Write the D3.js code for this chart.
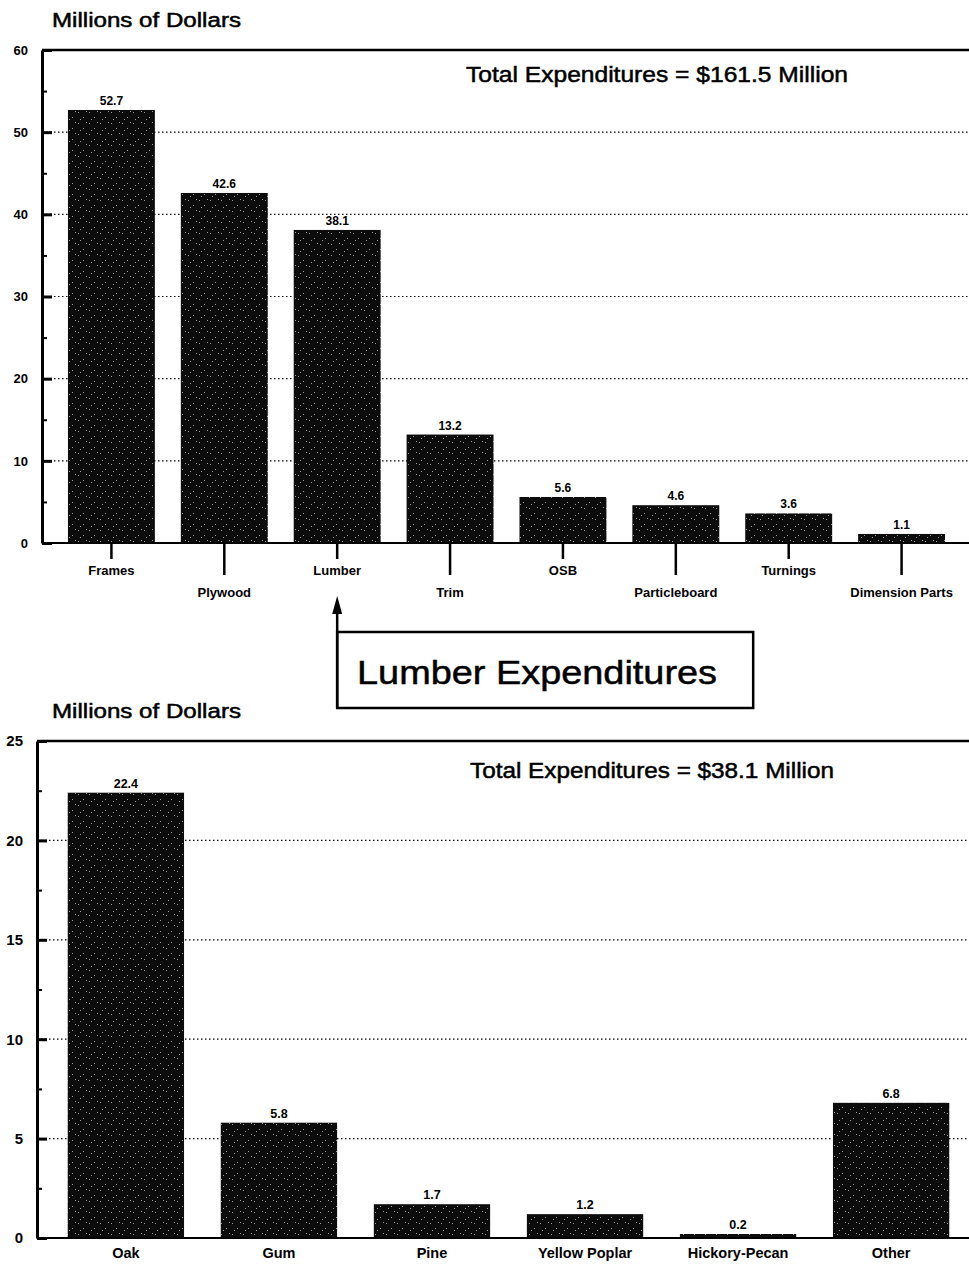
<!DOCTYPE html>
<html>
<head>
<meta charset="utf-8">
<script src="https://cdn.jsdelivr.net/npm/d3@7"></script>
<style>
  body { margin: 0; background: #fff; }
  svg text { font-family: "Liberation Sans", Arial, Helvetica, sans-serif; fill: #000; }
  .heading { stroke: #000; stroke-width: 0.5px; }
</style>
</head>
<body>
<svg id="chart" width="969" height="1266"></svg>
<script>
// wood product expenditures (millions of dollars)
const productCategories = ['Frames', 'Plywood', 'Lumber', 'Trim', 'OSB', 'Particleboard', 'Turnings', 'Dimension Parts'];
const productValues = [52.7, 42.6, 38.1, 13.2, 5.6, 4.6, 3.6, 1.1];
const productTicks = [0, 10, 20, 30, 40, 50, 60];
const productMinorTicks = [5, 15, 25, 35, 45, 55];

// lumber expenditures by species (millions of dollars)
const speciesCategories = ['Oak', 'Gum', 'Pine', 'Yellow Poplar', 'Hickory-Pecan', 'Other'];
const speciesValues = [22.4, 5.8, 1.7, 1.2, 0.2, 6.8];
const speciesTicks = [0, 5, 10, 15, 20, 25];
const speciesMinorTicks = [2.5, 7.5, 12.5, 17.5, 22.5];

const svg = d3.select('#chart');
const width = 969;

// stipple fill, like the printed screen
const defs = svg.append('defs');
const pat = defs.append('pattern')
  .attr('id', 'stipple')
  .attr('width', 11).attr('height', 11)
  .attr('patternUnits', 'userSpaceOnUse');
pat.append('rect').attr('width', 11).attr('height', 11).attr('fill', '#0c0c0c');
[[1, 2], [6, 7], [9, 1], [3, 9]].forEach(p => {
  pat.append('rect').attr('x', p[0]).attr('y', p[1]).attr('width', 1).attr('height', 1).attr('fill', '#9a9a9a');
});

function drawPanel(opt) {
  const g = svg.append('g');

  const y = d3.scaleLinear()
    .domain([0, d3.max(opt.ticks)])
    .range([opt.bottom, opt.top]);

  const x = d3.scaleBand()
    .domain(opt.categories)
    .range(opt.bandRange)
    .padding(opt.padding);

  // title
  g.append('text')
    .attr('class', 'heading')
    .attr('x', 52)
    .attr('y', opt.top - 23)
    .attr('font-size', 20)
    .attr('textLength', 189)
    .attr('lengthAdjust', 'spacingAndGlyphs')
    .text('Millions of Dollars');

  // dotted gridlines
  g.selectAll('line.grid')
    .data(opt.ticks.filter(t => t > 0 && t < d3.max(opt.ticks)))
    .join('line')
      .attr('class', 'grid')
      .attr('x1', opt.axisX).attr('x2', width)
      .attr('y1', d => y(d)).attr('y2', d => y(d))
      .attr('stroke', '#000')
      .attr('stroke-width', 1.2)
      .attr('stroke-dasharray', '1.5,2.5');

  // top frame line
  g.append('line')
    .attr('x1', opt.axisX).attr('x2', width)
    .attr('y1', y(d3.max(opt.ticks))).attr('y2', y(d3.max(opt.ticks)))
    .attr('stroke', '#000').attr('stroke-width', 2.5);

  // total label
  g.append('text')
    .attr('class', 'heading')
    .attr('x', opt.totalX)
    .attr('y', opt.totalY)
    .attr('font-size', 22)
    .attr('textLength', opt.totalWidth)
    .attr('lengthAdjust', 'spacingAndGlyphs')
    .text(opt.totalText);

  // bars
  g.selectAll('rect.bar')
    .data(opt.values)
    .join('rect')
      .attr('class', 'bar')
      .attr('x', (d, i) => x(opt.categories[i]))
      .attr('y', d => y(d))
      .attr('width', x.bandwidth())
      .attr('height', d => y(0) - y(d))
      .attr('fill', 'url(#stipple)');

  g.selectAll('text.value')
    .data(opt.values)
    .join('text')
      .attr('class', 'value')
      .attr('x', (d, i) => x(opt.categories[i]) + x.bandwidth() / 2)
      .attr('y', d => y(d) - 5)
      .attr('text-anchor', 'middle')
      .attr('font-size', opt.valueSize)
      .attr('font-weight', 'bold')
      .text(d => d.toFixed(1));

  // baseline
  g.append('line')
    .attr('x1', opt.axisX).attr('x2', width)
    .attr('y1', y(0)).attr('y2', y(0))
    .attr('stroke', '#000').attr('stroke-width', 2);

  // y axis
  const yAxis = g.append('g')
    .attr('transform', `translate(${opt.axisX},0)`)
    .call(d3.axisLeft(y).tickValues(opt.ticks).tickSizeInner(-10).tickSizeOuter(0).tickPadding(opt.tickPad));
  yAxis.select('.domain').attr('stroke-width', 3);
  yAxis.selectAll('.tick line').attr('stroke-width', 3);
  yAxis.selectAll('.tick text')
    .attr('font-size', opt.tickSize)
    .attr('font-weight', 'bold')
    .attr('font-family', '"Liberation Sans", Arial, sans-serif');

  g.append('g')
    .attr('transform', `translate(${opt.axisX},0)`)
    .call(d3.axisLeft(y).tickValues(opt.minorTicks).tickSize(-5).tickFormat(''))
    .call(s => s.select('.domain').remove())
    .selectAll('.tick line').attr('stroke-width', 2);

  // x axis
  const xAxis = g.append('g')
    .attr('transform', `translate(0,${y(0)})`)
    .call(d3.axisBottom(x).tickSizeOuter(0));
  xAxis.select('.domain').remove();
  xAxis.selectAll('.tick line')
    .attr('stroke-width', opt.staggered ? 2.5 : 0)
    .attr('y1', 1)
    .attr('y2', (d, i) => i % 2 ? 32 : 16);
  xAxis.selectAll('.tick text')
    .attr('font-size', opt.labelSize)
    .attr('font-weight', 'bold')
    .attr('font-family', '"Liberation Sans", Arial, sans-serif')
    .attr('y', (d, i) => opt.staggered && i % 2 ? 45 : opt.labelY)
    .attr('dy', '0.71em');

  return x;
}

const xTop = drawPanel({
  categories: productCategories,
  values: productValues,
  ticks: productTicks,
  minorTicks: productMinorTicks,
  top: 50, bottom: 543,
  axisX: 42,
  bandRange: [42, 971], padding: 0.23,
  totalText: 'Total Expenditures = $161.5 Million',
  totalX: 466, totalY: 82, totalWidth: 382,
  staggered: true, labelY: 23,
  labelSize: 13, valueSize: 12, tickSize: 13, tickPad: 14
});

drawPanel({
  categories: speciesCategories,
  values: speciesValues,
  ticks: speciesTicks,
  minorTicks: speciesMinorTicks,
  top: 741, bottom: 1238,
  axisX: 37,
  bandRange: [31, 986], padding: 0.24,
  totalText: 'Total Expenditures = $38.1 Million',
  totalX: 470, totalY: 778, totalWidth: 364,
  staggered: false, labelY: 10,
  labelSize: 14.5, valueSize: 12.5, tickSize: 15, tickPad: 14
});

// annotation linking the Lumber bar to the lower chart
const arrowX = xTop('Lumber') + xTop.bandwidth() / 2;
const note = svg.append('g');
note.append('line')
  .attr('x1', arrowX).attr('x2', arrowX)
  .attr('y1', 708).attr('y2', 610)
  .attr('stroke', '#000').attr('stroke-width', 2.5);
note.append('path')
  .attr('d', `M${arrowX},596 L${arrowX - 5},614 L${arrowX + 5},614 Z`)
  .attr('fill', '#000');
note.append('rect')
  .attr('x', arrowX).attr('y', 632)
  .attr('width', 416).attr('height', 76)
  .attr('fill', 'none')
  .attr('stroke', '#000').attr('stroke-width', 2.5);
note.append('text')
  .attr('class', 'heading')
  .attr('x', 357).attr('y', 684)
  .attr('font-size', 34)
  .attr('textLength', 360)
  .attr('lengthAdjust', 'spacingAndGlyphs')
  .text('Lumber Expenditures');
</script>
</body>
</html>
